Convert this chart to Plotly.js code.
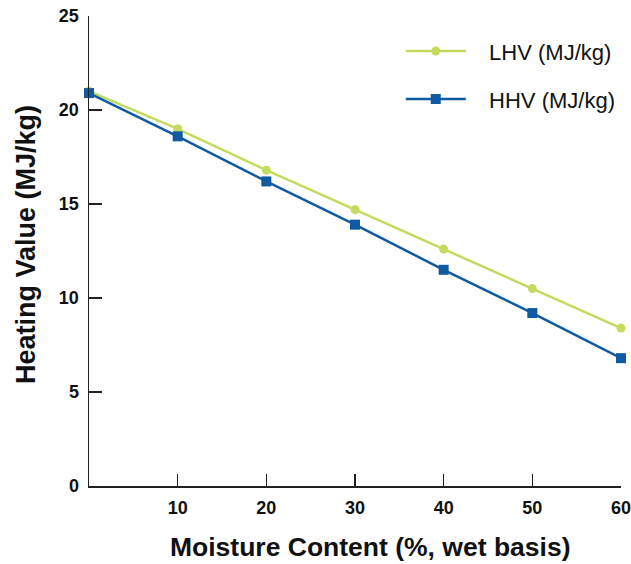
<!DOCTYPE html>
<html>
<head>
<meta charset="utf-8">
<script src="https://cdn.plot.ly/plotly-3.0.1.min.js"></script>
<style>html,body{margin:0;padding:0;background:#fff;}#chart{width:631px;height:564px;}</style>
</head>
<body>
<div id="chart"></div>
<script>
var moisture = [0, 10, 20, 30, 40, 50, 60];
var lhv = [21.0, 19.0, 16.8, 14.7, 12.6, 10.5, 8.4];
var hhv = [20.9, 18.6, 16.2, 13.9, 11.5, 9.2, 6.8];
var xTicks = [10, 20, 30, 40, 50, 60];
var yTicks = [0, 5, 10, 15, 20, 25];
var seriesNames = ['LHV (MJ/kg)', 'HHV (MJ/kg)'];

var FONT = 'Liberation Sans, Arial, Helvetica, sans-serif';
var pad = '\u00a0\u00a0\u00a0';

var traces = [
  {x: moisture, y: lhv, name: pad + seriesNames[0], mode: 'lines+markers', type: 'scatter',
   line: {color: '#c3dc5f', width: 2.5}, marker: {symbol: 'circle', size: 9, color: '#c3dc5f'},
   cliponaxis: false, legend: 'legend'},
  {x: moisture, y: hhv, name: pad + seriesNames[1], mode: 'lines+markers', type: 'scatter',
   line: {color: '#0f5aa2', width: 2.5}, marker: {symbol: 'square', size: 10, color: '#0f5aa2'},
   cliponaxis: false, legend: 'legend2'}
];

var legendCommon = {font: {family: FONT, size: 22, color: '#111'},
  bgcolor: 'rgba(0,0,0,0)', xanchor: 'left', yanchor: 'middle', itemwidth: 60, xref: 'paper', yref: 'paper'};

var layout = {
  width: 631, height: 564,
  margin: {l: 89, r: 10, t: 16, b: 78},
  paper_bgcolor: '#fff', plot_bgcolor: '#fff',
  font: {family: FONT, color: '#111'},
  showlegend: true,
  legend: Object.assign({}, legendCommon, {x: 0.586, y: 0.925}),
  legend2: Object.assign({}, legendCommon, {x: 0.586, y: 0.823}),
  xaxis: {range: [0, 60], tickvals: xTicks, ticktext: xTicks.map(String), ticks: 'inside', ticklen: 12,
    tickwidth: 1.2, tickcolor: '#222', showline: true, linecolor: '#222', linewidth: 1.5,
    showgrid: false, zeroline: false, ticklabelstandoff: 5, ticklabeloverflow: 'allow', automargin: false,
    tickfont: {family: FONT, size: 18, color: '#111', weight: 'bold'}},
  yaxis: {range: [0, 25], tickvals: yTicks, ticktext: yTicks.map(String), ticks: 'inside', ticklen: 13,
    tickwidth: 1.2, tickcolor: '#222', showline: true, linecolor: '#222', linewidth: 1.5,
    showgrid: false, zeroline: false, ticklabelstandoff: 5, ticklabeloverflow: 'allow', automargin: false,
    tickfont: {family: FONT, size: 18, color: '#111', weight: 'bold'}},
  annotations: [
    {text: '<b>Moisture Content (%, wet basis)</b>', xref: 'paper', yref: 'paper', x: 0.528, y: -0.129,
     xanchor: 'center', yanchor: 'middle', showarrow: false,
     font: {family: FONT, size: 26.5, color: '#111'}},
    {text: '<b>Heating Value (MJ/kg)</b>', xref: 'paper', yref: 'paper', x: -0.118, y: 0.513,
     xanchor: 'center', yanchor: 'middle', showarrow: false, textangle: -90,
     font: {family: FONT, size: 27, color: '#111'}}
  ]
};

Plotly.newPlot('chart', traces, layout, {displayModeBar: false, staticPlot: true});
</script>
</body>
</html>
